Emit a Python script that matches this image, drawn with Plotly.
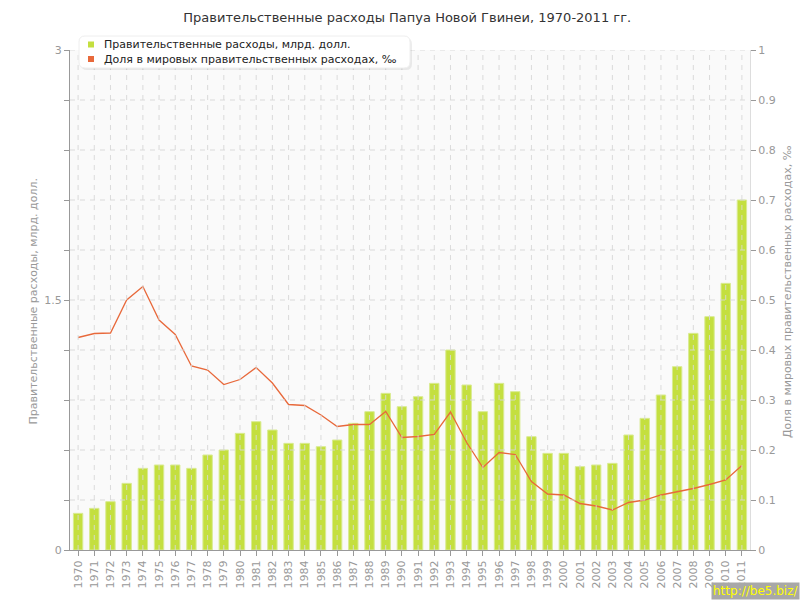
import plotly.graph_objects as go

years = [str(y) for y in range(1970, 2012)]
spending = [0.22, 0.25, 0.29, 0.40, 0.49, 0.51, 0.51, 0.49, 0.57, 0.60,
            0.70, 0.77, 0.72, 0.64, 0.64, 0.62, 0.66, 0.76, 0.83, 0.94,
            0.86, 0.92, 1.00, 1.20, 0.99, 0.83, 1.00, 0.95, 0.68, 0.58,
            0.58, 0.50, 0.51, 0.52, 0.69, 0.79, 0.93, 1.10, 1.30, 1.40,
            1.60, 2.10]
share = [0.425, 0.433, 0.434, 0.500, 0.527, 0.460, 0.431, 0.368, 0.360, 0.331,
         0.341, 0.365, 0.334, 0.291, 0.289, 0.270, 0.247, 0.251, 0.251, 0.277,
         0.225, 0.227, 0.231, 0.276, 0.215, 0.165, 0.195, 0.191, 0.137, 0.112,
         0.110, 0.093, 0.088, 0.080, 0.095, 0.100, 0.110, 0.116, 0.123, 0.131,
         0.140, 0.169]
left_ticks = [0, 0.3, 0.6, 0.9, 1.2, 1.5, 1.8, 2.1, 2.4, 2.7, 3]
left_labels = ["0", "", "", "", "", "1.5", "", "", "", "", "3"]
right_ticks = [0, 0.1, 0.2, 0.3, 0.4, 0.5, 0.6, 0.7, 0.8, 0.9, 1]
right_labels = ["0", "0.1", "0.2", "0.3", "0.4", "0.5", "0.6", "0.7", "0.8", "0.9", "1"]

name_bar = "Правительственные расходы, млрд. долл."
name_line = "Доля в мировых правительственных расходах, ‰"
title = "Правительственные расходы Папуа Новой Гвинеи, 1970-2011 гг."

GREEN = "#c4df3f"
ORANGE = "#e8693b"
FONT = "DejaVu Sans"
GREY = "#999999"
GRID = "rgba(215,215,215,0.9)"

# plot area in pixels: x 70..750, y 50..550
def px(x):
    return (x - 70) / 680


def py(y):
    return (550 - y) / 500


fig = go.Figure()
fig.add_trace(go.Bar(x=years, y=spending, yaxis="y", showlegend=False,
                     marker=dict(color=GREEN, line=dict(color="#d9eb92", width=1))))
fig.add_trace(go.Scatter(x=years, y=share, yaxis="y2", mode="lines", showlegend=False,
                         line=dict(color=ORANGE, width=1.3)))

shapes = []
for i, y in enumerate(years):
    shapes.append(dict(type="line", xref="x", yref="paper", x0=i, x1=i, y0=0, y1=1,
                       layer="above", line=dict(color=GRID, width=1, dash="5px,5px")))
for v in right_ticks[1:]:
    shapes.append(dict(type="line", xref="paper", yref="y2", x0=0, x1=1, y0=v, y1=v,
                       layer="above", line=dict(color=GRID, width=1, dash="5px,5px")))

# custom legend box (rounded, with a soft shadow)
def rounded(x0, y0, x1, y1, r):
    X0, X1 = px(x0), px(x1)
    Y0, Y1 = py(y0), py(y1)
    rx, ry = r / 680, r / 500
    return (f"M {X0+rx},{Y0} L {X1-rx},{Y0} Q {X1},{Y0} {X1},{Y0-ry} "
            f"L {X1},{Y1+ry} Q {X1},{Y1} {X1-rx},{Y1} L {X0+rx},{Y1} "
            f"Q {X0},{Y1} {X0},{Y1+ry} L {X0},{Y0-ry} Q {X0},{Y0} {X0+rx},{Y0} Z")


shapes.append(dict(type="path", xref="paper", yref="paper", path=rounded(81, 38, 412, 70, 6),
                   fillcolor="rgba(0,0,0,0.07)", line=dict(width=0), layer="above"))
shapes.append(dict(type="path", xref="paper", yref="paper", path=rounded(79, 36, 410, 68, 6),
                   fillcolor="white", line=dict(color="#eeeeee", width=1), layer="above"))
legend_items = [(name_bar, GREEN, 44.5), (name_line, ORANGE, 59)]
annotations = []
for text, color, yc in legend_items:
    shapes.append(dict(type="rect", xref="paper", yref="paper", x0=px(88), x1=px(94),
                       y0=py(yc + 3), y1=py(yc - 3), fillcolor=color, line=dict(width=0),
                       layer="above"))
    annotations.append(dict(text=text, xref="paper", yref="paper", x=px(102), y=py(yc),
                            xanchor="left", yanchor="middle", showarrow=False,
                            font=dict(family=FONT, size=11, color="#222222")))

annotations += [
    dict(text=name_bar, xref="paper", yref="paper", x=px(33), y=py(301.5),
         textangle=-90, showarrow=False, xanchor="center", yanchor="middle",
         font=dict(family=FONT, size=11, color=GREY)),
    dict(text=name_line, xref="paper", yref="paper", x=px(787), y=py(292),
         textangle=-90, showarrow=False, xanchor="center", yanchor="middle",
         font=dict(family=FONT, size=11, color=GREY)),
    dict(text="http://be5.biz/", xref="paper", yref="paper", x=px(800),
         y=py(600), xanchor="right", yanchor="bottom", showarrow=False,
         bgcolor="#a8a8a8", borderpad=1,
         font=dict(family=FONT, size=12, color="#ffff00")),
]

fig.update_layout(
    width=800, height=600,
    margin=dict(l=70, r=50, t=50, b=50),
    paper_bgcolor="white", plot_bgcolor="#fafafa",
    font=dict(family=FONT, size=11, color=GREY),
    title=dict(text=title, x=0.509, xanchor="center", y=1 - 17 / 600, yanchor="middle",
               font=dict(family=FONT, size=13, color="#333333")),
    bargap=0.42,
    showlegend=False,
    xaxis=dict(type="category", tickangle=-90, showgrid=False, ticks="outside", ticklen=5,
               tickcolor=GREY, showline=True, linecolor=GREY, linewidth=1,
               tickfont=dict(size=11, color=GREY), range=[-0.5, len(years) - 0.5]),
    yaxis=dict(range=[0, 3], tickvals=left_ticks, ticktext=left_labels, showgrid=False,
               ticks="outside", ticklen=5, tickcolor=GREY, showline=True, linecolor=GREY,
               linewidth=1, zeroline=False, tickfont=dict(size=11, color=GREY)),
    yaxis2=dict(range=[0, 1], overlaying="y", side="right", tickvals=right_ticks,
                ticktext=right_labels, showgrid=False, ticks="outside", ticklen=5,
                tickcolor=GREY, showline=True, linecolor="#dddddd", linewidth=1,
                zeroline=False, tickfont=dict(size=11, color=GREY)),
    shapes=shapes,
    annotations=annotations,
)

fig.write_html("out.html", config={"displayModeBar": False},
               post_script="document.body.style.margin='0';")
